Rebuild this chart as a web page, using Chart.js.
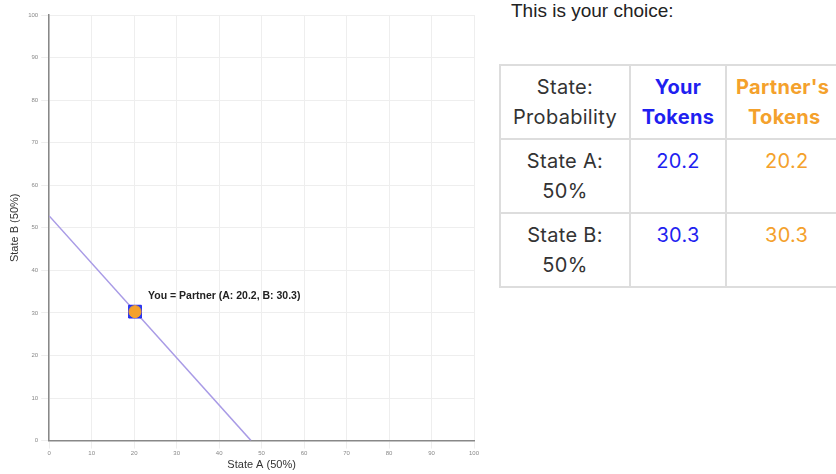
<!DOCTYPE html>
<html>
<head>
<meta charset="utf-8">
<script src="https://cdn.jsdelivr.net/npm/chart.js@4/dist/chart.umd.min.js"></script>
<style>
  body { margin:0; background:#fff; font-family: "Helvetica", "Liberation Sans", Arial, sans-serif; overflow:hidden; }
  #chart_box { position:absolute; left:0; top:0; width:484px; height:474px; }
  #side { position:absolute; left:499px; top:0; width:400px; }
  #side h3 { margin:0; position:absolute; left:12px; top:0; font-size:19px; font-weight:normal; color:#222; white-space:nowrap; }
  table { position:absolute; top:64px; left:0; width:400px; border-collapse:collapse; font-size:20px; table-layout:fixed; color:#333; font-family:Inter, "Liberation Sans", sans-serif; letter-spacing:0.3px; }
  td, th { border:2px solid #ddd; text-align:center; vertical-align:top; padding:6px 0; line-height:30px; height:60px; white-space:nowrap; overflow:hidden; }
  th { font-weight:bold; }
  .you { color:#1f1ff0; }
  .partner { color:#f4a12c; text-align:left !important; }
</style>
</head>
<body>
<div id="chart_box"><canvas id="choice_canvas"></canvas></div>
<div id="side">
  <h3>This is your choice:</h3>
  <table>
    <colgroup><col style="width:130px"><col style="width:96px"><col style="width:174px"></colgroup>
    <tr><th style="font-weight:normal">State:<br>Probability</th><th class="you">Your<br>Tokens</th><th class="partner" style="padding-left:9px">Partner's<br><span style="padding-left:12px">Tokens</span></th></tr>
    <tr><td>State A:<br>50%</td><td class="you" id="a_you"></td><td class="partner" id="a_partner" style="padding-left:38px"></td></tr>
    <tr><td>State B:<br>50%</td><td class="you" id="b_you"></td><td class="partner" id="b_partner" style="padding-left:38px"></td></tr>
  </table>
</div>
<script>
var budget_line = [{x:0, y:52.8}, {x:47.5, y:0}];
var choice_you = [{x:20.2, y:30.3}];
var choice_partner = [{x:20.2, y:30.3}];
var tick_values = [0,10,20,30,40,50,60,70,80,90,100];

document.getElementById("a_you").textContent = choice_you[0].x;
document.getElementById("b_you").textContent = choice_you[0].y;
document.getElementById("a_partner").textContent = choice_partner[0].x;
document.getElementById("b_partner").textContent = choice_partner[0].y;

var label_plugin = {
  id: 'choice_label',
  afterDatasetsDraw: function(chart) {
    var ctx = chart.ctx;
    var px = chart.scales.x.getPixelForValue(choice_you[0].x);
    var py = chart.scales.y.getPixelForValue(choice_you[0].y);
    ctx.save();
    ctx.font = 'bold 10.5px "Liberation Sans", Arial, sans-serif';
    ctx.fillStyle = '#222';
    ctx.fillText('You = Partner (A: ' + choice_you[0].x + ', B: ' + choice_you[0].y + ')', px + 13, py - 13);
    ctx.restore();
  }
};

new Chart(document.getElementById("choice_canvas"), {
  type: 'scatter',
  data: {
    datasets: [
      { data: choice_partner, backgroundColor:'#f4a12c', borderColor:'#f4a12c', pointRadius:6, pointStyle:'circle' },
      { data: choice_you, backgroundColor:'#2b4fe8', borderColor:'#1f1ff0', pointRadius:9, pointStyle:'rect' },
      { data: budget_line, showLine:true, borderColor:'#a99be6', borderWidth:1.5, pointRadius:0, fill:false }
    ]
  },
  plugins: [label_plugin],
  options: {
    responsive:true, maintainAspectRatio:false, animation:false,
    layout: { padding: { top:15, right:10, bottom:0, left:4 } },
    plugins: { legend:{display:false}, tooltip:{enabled:false} },
    scales: {
      x: {
        min:0, max:100,
        afterBuildTicks: function(s){ s.ticks = tick_values.map(function(v){ return {value:v}; }); },
        ticks: { font:{size:6}, color:'#888', maxRotation:0, padding:1 },
        grid: { color:'#eee' },
        border: { color:'#888', width:1.5 },
        title: { display:true, text:'State A (50%)', font:{size:11}, color:'#333', padding:{top:1, bottom:2} }
      },
      y: {
        min:0, max:100,
        afterBuildTicks: function(s){ s.ticks = tick_values.map(function(v){ return {value:v}; }); },
        ticks: { font:{size:6}, color:'#888' },
        grid: { color:'#eee' },
        border: { color:'#888', width:1.5 },
        title: { display:true, text:'State B (50%)', font:{size:11}, color:'#333' }
      }
    }
  }
});
</script>
</body>
</html>
